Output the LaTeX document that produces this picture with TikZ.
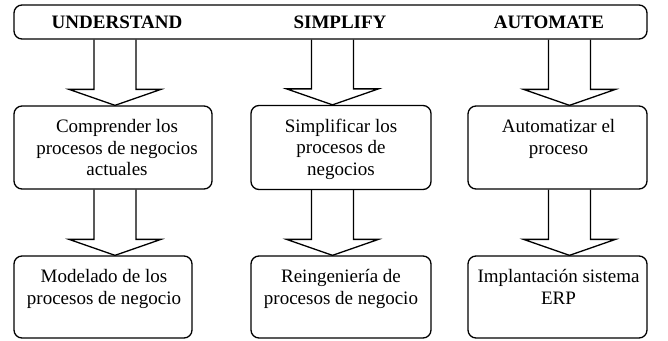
\documentclass[tikz,border=0pt]{standalone}
\usepackage{fontspec}
\setmainfont{Liberation Serif}
\newfontfamily\tnr{Liberation Serif}
\usetikzlibrary{calc}
\tikzset{
  boxshape/.style={draw=black, line width=1.3pt, rounded corners=8pt, inner sep=0pt},
  headtext/.style={font=\tnr\fontsize{19}{22}\selectfont\bfseries, inner sep=0pt},
  boxtext/.style={font=\tnr\fontsize{19}{21.5}\selectfont, align=center, anchor=north, inner sep=0pt},
  arrowline/.style={draw=black, line width=1.3pt, line join=miter}
}
\newcommand{\blkarrow}[3]{%
  \draw[arrowline] let \p1=(#1 |- #2.south), \p2=(#1 |- #3.north) in
    (\x1-21pt,\y1) -- (\x1-21pt,\y2+16pt) -- (\x1-46pt,\y2+16pt) -- (\x1,\y2)
    -- (\x1+46pt,\y2+16pt) -- (\x1+21pt,\y2+16pt) -- (\x1+21pt,\y1);}
\begin{document}
\begin{tikzpicture}[x=1pt,y=-1pt]
\useasboundingbox (0,0) rectangle (668,340);
% top bar
\node[boxshape, minimum width=633pt, minimum height=34pt] (bar) at (330.5,22) {};
\node[headtext] (h1) at (117,22.5) {UNDERSTAND};
\node[headtext] (h2) at (340,22.5) {SIMPLIFY};
\node[headtext] (h3) at (549,22.5) {AUTOMATE};
% boxes
\node[boxshape, minimum width=198pt, minimum height=83pt] (b1) at (113,147.5) {};
\node[boxshape, minimum width=180pt, minimum height=84pt] (b2) at (341,147.5) {};
\node[boxshape, minimum width=179pt, minimum height=83pt] (b3) at (557.5,147.5) {};
\node[boxshape, minimum width=178pt, minimum height=82pt] (b4) at (103,297) {};
\node[boxshape, minimum width=180pt, minimum height=82pt] (b5) at (341,297) {};
\node[boxshape, minimum width=179pt, minimum height=82pt] (b6) at (557.5,297) {};
% texts
\node[boxtext] (t1) at ($(b1.north)+(4,14)$) {Comprender los\\procesos de negocios\\actuales};
\node[boxtext] (t2) at ($(b2.north)+(0,14)$) {Simplificar los\\procesos de\\negocios};
\node[boxtext] (t3) at ($(b3.north)+(1,14)$) {Automatizar el\\proceso};
\node[boxtext] (t4) at ($(b4.north)+(1,14)$) {Modelado de los\\procesos de negocio};
\node[boxtext] (t5) at ($(b5.north)+(0,14)$) {Reingeniería de\\procesos de negocio};
\node[boxtext] (t6) at ($(b6.north)+(1,14)$) {Implantación sistema\\ERP};
% arrow axes
\coordinate (c1) at (115,0);
\coordinate (c2) at (332.5,0);
\coordinate (c3) at (569.5,0);
\blkarrow{c1}{bar}{b1}
\blkarrow{c2}{bar}{b2}
\blkarrow{c3}{bar}{b3}
\blkarrow{c1}{b1}{b4}
\blkarrow{c2}{b2}{b5}
\blkarrow{c3}{b3}{b6}
\end{tikzpicture}
\end{document}
